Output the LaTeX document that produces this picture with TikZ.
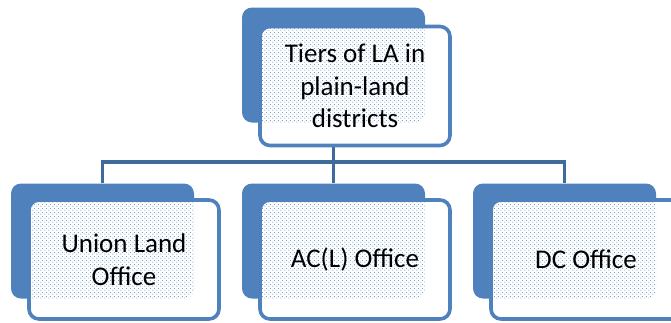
\documentclass[tikz,border=0pt]{standalone}
\usepackage{fontspec}
\setmainfont{Carlito}
\usetikzlibrary{patterns}

\definecolor{tierblue}{HTML}{4F81BD}
\definecolor{tierdark}{HTML}{3F6A9C}

% staggered dot grid for the see-through part of the front boxes
\pgfdeclarepatternformonly{tierdots}{\pgfpointorigin}{\pgfpoint{4pt}{4pt}}{\pgfpoint{4pt}{4pt}}{
  \pgfpathcircle{\pgfpoint{1pt}{1pt}}{0.65pt}
  \pgfpathcircle{\pgfpoint{3pt}{3pt}}{0.65pt}
  \pgfusepath{fill}
}

\tikzset{
  tierback/.style={rectangle, rounded corners=10pt, fill=tierblue, minimum width=183pt, minimum height=115pt, inner sep=0pt},
  tierfront/.style={rectangle, rounded corners=10pt, draw=tierblue, line width=3.6pt, fill=white, minimum width=190pt, minimum height=119pt, inner sep=0pt, align=center, font=\fontsize{27}{32.5}\selectfont},
  tierline/.style={draw=tierdark, line width=3.6pt}
}

\begin{document}
\begin{tikzpicture}[x=1pt, y=-1pt]
			\useasboundingbox (0,0) rectangle (671,322);
			
			% Back boxes
			\node[tierback] (TB) at (333.5,65) {};
			\node[tierback] (UB) at (102.5,241) {};
			\node[tierback] (AB) at (333.5,241) {};
			\node[tierback] (DB) at (564.5,241) {};
			
			% Connectors
			\coordinate (bus) at (333.5,162);
			\draw[tierline] (TB.center) -- (AB.north);
			\draw[tierline] (UB.north) |- (bus) -| (DB.north);
			
			% Front boxes, dotted where the back box shows through
			\node[tierfront, path picture={\fill[pattern=tierdots, pattern color=tierblue!85, rounded corners=10pt] (TB.north west) rectangle (TB.south east);}] (T) at (355,86) {Tiers of LA in\\plain-land\\districts};
			\node[tierfront, path picture={\fill[pattern=tierdots, pattern color=tierblue!85, rounded corners=10pt] (UB.north west) rectangle (UB.south east);}] (U) at (124,259.5) {Union Land\\Office};
			\node[tierfront, path picture={\fill[pattern=tierdots, pattern color=tierblue!85, rounded corners=10pt] (AB.north west) rectangle (AB.south east);}] (A) at (355,259.5) {AC(L) Office};
			\node[tierfront, path picture={\fill[pattern=tierdots, pattern color=tierblue!85, rounded corners=10pt] (DB.north west) rectangle (DB.south east);}] (D) at (586,259.5) {DC Office};
			
		\end{tikzpicture}
\end{document}
